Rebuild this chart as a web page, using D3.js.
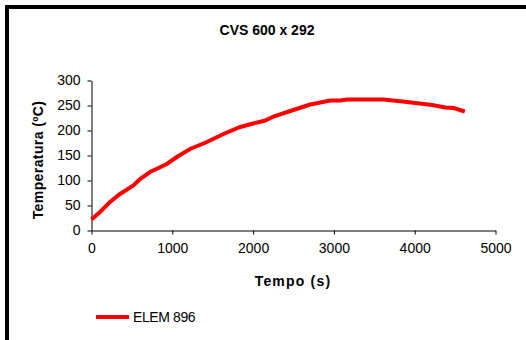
<!DOCTYPE html>
<html>
<head>
<meta charset="utf-8">
<script src="https://cdn.jsdelivr.net/npm/d3@7"></script>
<style>
  body { margin: 0; background: #fff; }
  text { font-family: "Liberation Sans", Arial, sans-serif; }
</style>
</head>
<body>
<div class="chart"></div>
<script>
// data
const tempo = [0, 105, 229, 353, 518, 601, 725, 932, 1056, 1220, 1428, 1634, 1840, 2000, 2150, 2253, 2460, 2707, 2955, 3080, 3162, 3616, 3906, 4216, 4381, 4484, 4620];
const temperatura = [22, 37, 57, 73, 90, 103, 117, 133, 147, 163, 177, 193, 207, 214, 220, 228, 239, 252, 260, 260, 262, 262, 257, 251, 246, 245, 238];
const xTicks = [0, 1000, 2000, 3000, 4000, 5000];
const yTicks = [0, 50, 100, 150, 200, 250, 300];
const seriesName = "ELEM 896";

function init(){
    const w = 526, h = 340;

    const svg = d3.select(".chart").append("svg").attr("width", w).attr("height", h);

    // outer frame (runs off the right and bottom edge)
    svg.append("rect")
    .attr("x", 7).attr("y", 7)
    .attr("width", w + 20).attr("height", h + 20)
    .attr("fill", "none")
    .attr("stroke", "black")
    .attr("stroke-width", 4);

    const x = d3.scaleLinear().domain([0, 5000]).range([91.5, 495.5]);
    const y = d3.scaleLinear().domain([0, 300]).range([230.5, 80.5]);

    // axes
    svg.append("g")
    .attr("transform", "translate(0,230.5)")
    .call(d3.axisBottom(x).tickValues(xTicks).tickFormat(d3.format("d")).tickSize(4).tickSizeOuter(0).tickPadding(9))
    .call(g => g.selectAll("text").attr("font-size", 14).attr("fill", "#000"));

    svg.append("g")
    .attr("transform", "translate(91.5,0)")
    .call(d3.axisLeft(y).tickValues(yTicks).tickFormat(d3.format("d")).tickSize(4).tickSizeOuter(0).tickPadding(7))
    .call(g => g.selectAll("text").attr("font-size", 14).attr("fill", "#000"));

    svg.selectAll(".domain, .tick line").attr("stroke", "#000");

    // series
    const pts = tempo.map((t, i) => [t, temperatura[i]]);
    svg.append("path")
    .datum(pts)
    .attr("fill", "none")
    .attr("stroke", "#ff0000")
    .attr("stroke-width", 4)
    .attr("d", d3.line().x(d => x(d[0])).y(d => y(d[1])));

    // title + axis labels
    svg.append("text")
    .attr("x", 267).attr("y", 35)
    .attr("text-anchor", "middle")
    .attr("font-size", 14).attr("font-weight", "bold")
    .text("CVS 600 x 292");

    svg.append("text")
    .attr("x", 293).attr("y", 286)
    .attr("text-anchor", "middle")
    .attr("font-size", 14).attr("font-weight", "bold")
    .attr("letter-spacing", 1.2)
    .text("Tempo (s)");

    svg.append("text")
    .attr("transform", "translate(43,160) rotate(-90)")
    .attr("text-anchor", "middle")
    .attr("font-size", 14).attr("font-weight", "bold")
    .attr("letter-spacing", 0.4)
    .text("Temperatura (ºC)");

    // legend
    svg.append("line")
    .attr("x1", 96).attr("x2", 129)
    .attr("y1", 317).attr("y2", 317)
    .attr("stroke", "#ff0000")
    .attr("stroke-width", 4);

    svg.append("text")
    .attr("x", 133).attr("y", 322)
    .attr("font-size", 14)
    .attr("letter-spacing", -0.4)
    .text(seriesName);
}
window.onload = init();
</script>
</body>
</html>
